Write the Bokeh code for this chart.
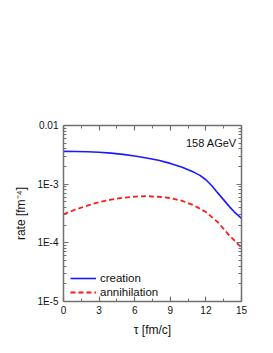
from bokeh.plotting import figure
from bokeh.embed import file_html
from bokeh.resources import INLINE
from bokeh.models import (LinearAxis, LogAxis, FixedTicker, CustomJSTickFormatter,
                          Legend, LegendItem, Label)

# ---- data ----
tau_creation = [0, 1, 2, 3, 4, 5, 6, 7, 8, 9, 10, 11, 11.5, 12, 12.5, 13, 13.5, 14, 14.5, 15]
rate_creation = [3.62e-3, 3.61e-3, 3.57e-3, 3.49e-3, 3.38e-3, 3.22e-3, 3.02e-3, 2.80e-3,
                 2.55e-3, 2.26e-3, 1.95e-3, 1.59e-3, 1.41e-3, 1.19e-3, 9.4e-4, 7.1e-4,
                 5.4e-4, 4.1e-4, 3.2e-4, 2.6e-4]

tau_annihilation = [0, 1, 2, 3, 4, 5, 6, 7, 8, 9, 10, 11, 12, 13, 14, 15]
rate_annihilation = [3.05e-4, 3.70e-4, 4.30e-4, 4.95e-4, 5.45e-4, 5.85e-4, 6.15e-4, 6.25e-4,
                     6.10e-4, 5.80e-4, 5.20e-4, 4.35e-4, 3.35e-4, 2.25e-4, 1.32e-4, 8.3e-5]

x_ticks = [0, 3, 6, 9, 12, 15]
x_minor_ticks = [1.5, 4.5, 7.5, 10.5, 13.5]
y_tick_values = [1e-5, 1e-4, 1e-3, 1e-2]
y_tick_labels = ["1E-5", "1E-4", "1E-3", "0.01"]

series_labels = ["creation", "annihilation"]
annotation_text = "158 AGeV"
x_label = "\u03c4 [fm/c]"
y_label = "rate [fm\u207b\u2074]"

FONT = "Liberation Sans"
AXIS_COLOR = "#707070"

y_minor = [k * 10.0 ** e for e in range(-5, -2) for k in range(2, 10)]

p = figure(width=265, height=345, x_range=(0, 15), y_range=(1e-5, 1e-2),
           y_axis_type="log", output_backend="svg", toolbar_location=None,
           min_border_left=63, min_border_right=24, min_border_top=125,
           min_border_bottom=44)
p.grid.visible = False
p.outline_line_color = None
p.background_fill_color = "white"
p.border_fill_color = "white"

r1 = p.line(tau_creation, rate_creation, line_color="#1a1aff", line_width=1.6)
r2 = p.line(tau_annihilation, rate_annihilation, line_color="#ff1a1a", line_width=1.8,
            line_dash="5 3")

ytick_fmt = CustomJSTickFormatter(args=dict(vals=y_tick_values, labs=y_tick_labels), code="""
for (let i = 0; i < vals.length; i++) {
  if (Math.abs(Math.log10(tick) - Math.log10(vals[i])) < 1e-6) return labs[i];
}
return '';
""")
empty_fmt = CustomJSTickFormatter(code="return '';")

xt = FixedTicker(ticks=x_ticks, minor_ticks=x_minor_ticks)
yt = FixedTicker(ticks=y_tick_values, minor_ticks=y_minor)


def style(ax):
    ax.axis_line_color = AXIS_COLOR
    ax.axis_line_width = 1.5
    ax.major_tick_line_color = AXIS_COLOR
    ax.minor_tick_line_color = AXIS_COLOR
    ax.major_tick_line_width = 1.2
    ax.minor_tick_line_width = 1.0
    ax.major_tick_in = 5
    ax.major_tick_out = 0
    ax.minor_tick_in = 3
    ax.minor_tick_out = 0
    ax.major_label_text_font = FONT
    ax.major_label_text_font_size = "10px"
    ax.major_label_text_color = "#111111"
    ax.axis_label_text_font = FONT
    ax.axis_label_text_font_size = "12px"
    ax.axis_label_text_font_style = "normal"
    ax.axis_label_text_color = "#111111"


xa = p.xaxis[0]
xa.ticker = xt
style(xa)
xa.major_label_standoff = 4
xa.axis_label = x_label
xa.axis_label_standoff = 6

ya = p.yaxis[0]
ya.ticker = yt
ya.formatter = ytick_fmt
style(ya)
ya.major_label_standoff = 5
ya.axis_label = y_label
ya.axis_label_standoff = 6

top = LinearAxis(ticker=FixedTicker(ticks=x_ticks, minor_ticks=x_minor_ticks),
                 formatter=empty_fmt)
style(top)
top.major_label_standoff = 0
p.add_layout(top, "above")

right = LogAxis(ticker=FixedTicker(ticks=y_tick_values, minor_ticks=y_minor),
                formatter=empty_fmt)
style(right)
right.major_label_standoff = 0
p.add_layout(right, "right")

legend = Legend(items=[LegendItem(label=series_labels[0], renderers=[r1]),
                       LegendItem(label=series_labels[1], renderers=[r2])],
                location=(7, 2), padding=3, margin=0, spacing=0,
                glyph_width=26, glyph_height=14, label_height=14, label_standoff=4,
                label_text_font=FONT, label_text_font_size="11.5px",
                label_text_color="#111111",
                border_line_color=None, background_fill_alpha=0)
p.add_layout(legend)

lab = Label(x=14.6, y=5.0e-3, text=annotation_text, text_align="right",
            text_baseline="alphabetic", text_font=FONT, text_font_size="11px",
            text_color="#111111")
p.add_layout(lab)

open("out.html", "w").write(file_html(p, INLINE))
